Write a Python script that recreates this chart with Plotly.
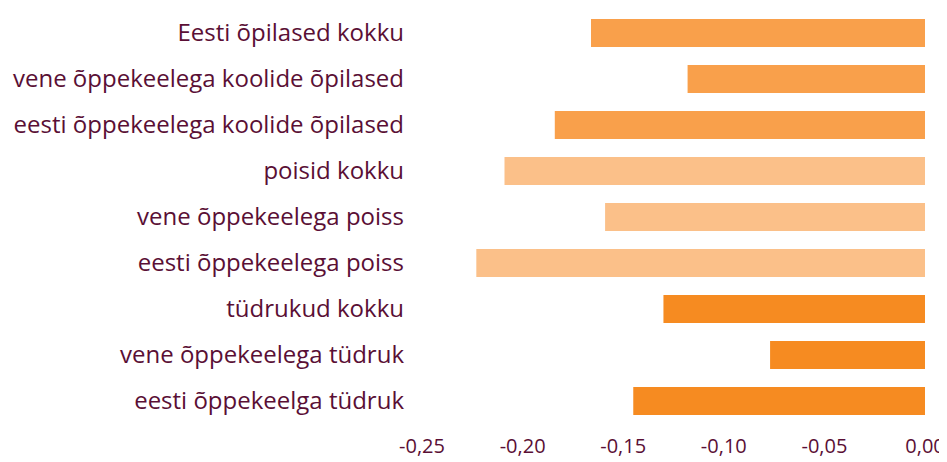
import plotly.graph_objects as go

categories = [
    "Eesti õpilased kokku",
    "vene õppekeelega koolide õpilased",
    "eesti õppekeelega koolide õpilased",
    "poisid kokku",
    "vene õppekeelega poiss",
    "eesti õppekeelega poiss",
    "tüdrukud kokku",
    "vene õppekeelega tüdruk",
    "eesti õppekeelga tüdruk",
]
values = [-0.166, -0.118, -0.184, -0.209, -0.159, -0.223, -0.130, -0.077, -0.145]
bar_colors = ["#F9A04B"] * 3 + ["#FBC089"] * 3 + ["#F68B21"] * 3
tick_vals = [-0.25, -0.20, -0.15, -0.10, -0.05, 0.0]
tick_text = ["-0,25", "-0,20", "-0,15", "-0,10", "-0,05", "0,00"]

text_color = "#5A0F35"
font_family = "'Open Sans', sans-serif"

fig = go.Figure(
    go.Bar(
        x=values,
        y=categories,
        orientation="h",
        marker=dict(color=bar_colors, line=dict(width=0)),
        hoverinfo="skip",
    )
)

fig.update_layout(
    width=947,
    height=462,
    margin=dict(l=414, r=30, t=2, b=46),
    paper_bgcolor="white",
    plot_bgcolor="white",
    bargap=0.39,
    showlegend=False,
    font=dict(family=font_family, color=text_color, size=21),
)
fig.update_xaxes(
    range=[-0.25, 0.0],
    tickvals=tick_vals,
    ticktext=tick_text,
    showgrid=False,
    zeroline=False,
    showline=False,
    ticks="",
    automargin=False,
    tickfont=dict(size=20, color=text_color, family=font_family),
    ticklabelstandoff=8,
)
fig.update_yaxes(
    autorange="reversed",
    showgrid=False,
    zeroline=False,
    showline=False,
    ticks="",
    automargin=False,
    tickfont=dict(size=24, color=text_color, family=font_family),
    ticklabelstandoff=17,
)

fig.write_html("out.html")
